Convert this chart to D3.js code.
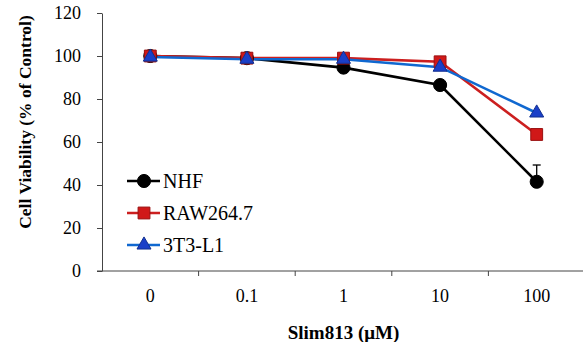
<!DOCTYPE html>
<html>
<head>
<meta charset="utf-8">
<script src="https://cdn.jsdelivr.net/npm/d3@7"></script>
<style>
  body { margin: 0; background: #fff; }
</style>
</head>
<body>
<svg id="chart"></svg>
<script>
// data
var doses = ['0', '0.1', '1', '10', '100'];
var nhf = [100, 99, 94.6, 86.5, 41.5];
var nhfErr = [0, 0, 0, 0, 7.8];
var raw = [100, 99, 99, 97.3, 63.5];
var t3l1 = [99.5, 98.5, 98.5, 94.8, 73.5];
var yTicks = [0, 20, 40, 60, 80, 100, 120];

var serif = '"Liberation Serif", "DejaVu Serif", serif';

// plot box
var width = 583;
var height = 342;
var pLeft = 102, pRight = 585, pTop = 13, pBottom = 271;

var svg = d3.select('#chart')
    .attr('width', width)
    .attr('height', height);

var xScale = d3.scaleBand()
    .domain(doses)
    .range([pLeft, pRight]);

var yScale = d3.scaleLinear()
    .domain([0, 120])
    .range([pBottom, pTop]);

var cx = d => xScale(d) + xScale.bandwidth() / 2;

// y axis
var yAxis = d3.axisLeft(yScale)
    .tickValues(yTicks)
    .tickSize(5)
    .tickSizeOuter(0)
    .tickPadding(16);

var gy = svg.append('g')
    .attr('transform', 'translate(' + pLeft + ',0)')
    .call(yAxis);
gy.selectAll('text')
    .style('font-family', serif)
    .style('font-size', '18px')
    .attr('fill', '#000');
gy.selectAll('line, path').attr('stroke', '#444');

// x axis, ticks sit between categories
var gx = svg.append('g')
    .attr('transform', 'translate(0,' + pBottom + ')');
gx.append('line')
    .attr('x1', pLeft - 5).attr('x2', pRight)
    .attr('stroke', '#444');
gx.selectAll('.tk')
    .data(doses.slice(1))
    .enter()
    .append('line')
        .attr('x1', d => xScale(d))
        .attr('x2', d => xScale(d))
        .attr('y1', 0).attr('y2', 5)
        .attr('stroke', '#444');
gx.selectAll('.lab')
    .data(doses)
    .enter()
    .append('text')
        .attr('x', d => cx(d))
        .attr('y', 31)
        .style('text-anchor', 'middle')
        .style('font-family', serif)
        .style('font-size', '18px')
        .text(d => d);

var line = d3.line()
    .x((d, i) => cx(doses[i]))
    .y(d => yScale(d));

// NHF error bar (upper only)
nhf.forEach(function(v, i) {
    if (nhfErr[i] > 0) {
        var x = cx(doses[i]);
        svg.append('line')
            .attr('x1', x).attr('x2', x)
            .attr('y1', yScale(v)).attr('y2', yScale(v + nhfErr[i]))
            .attr('stroke', '#000').attr('stroke-width', 1.3);
        svg.append('line')
            .attr('x1', x - 4).attr('x2', x + 4)
            .attr('y1', yScale(v + nhfErr[i])).attr('y2', yScale(v + nhfErr[i]))
            .attr('stroke', '#000').attr('stroke-width', 1.3);
    }
});

var series = [
    { name: 'NHF', values: nhf, line: '#000', fill: '#000', stroke: '#000', shape: d3.symbolCircle, size: 135 },
    { name: 'RAW264.7', values: raw, line: '#cc1f1f', fill: '#d01818', stroke: '#9a1010', shape: d3.symbolSquare, size: 140 },
    { name: '3T3-L1', values: t3l1, line: '#1068d0', fill: '#1a3fc8', stroke: '#12308f', shape: d3.symbolTriangle, size: 85 }
];

series.forEach(function(s) {
    svg.append('path')
        .datum(s.values)
        .attr('d', line)
        .attr('fill', 'none')
        .attr('stroke', s.line)
        .attr('stroke-width', 2.6);
});
series.forEach(function(s) {
    svg.selectAll(null)
        .data(s.values)
        .enter()
        .append('path')
            .attr('d', d3.symbol().type(s.shape).size(s.size))
            .attr('transform', (d, i) => 'translate(' + cx(doses[i]) + ',' + yScale(d) + ')')
            .attr('fill', s.fill)
            .attr('stroke', s.stroke)
            .attr('stroke-width', 1);
});

// legend
var legend = svg.append('g');
series.forEach(function(s, i) {
    var y = 181 + i * 32;
    legend.append('line')
        .attr('x1', 127).attr('x2', 160)
        .attr('y1', y).attr('y2', y)
        .attr('stroke', s.line)
        .attr('stroke-width', 2.6);
    legend.append('path')
        .attr('d', d3.symbol().type(s.shape).size(s.size))
        .attr('transform', 'translate(144,' + y + ')')
        .attr('fill', s.fill)
        .attr('stroke', s.stroke);
    legend.append('text')
        .attr('x', 163)
        .attr('y', y)
        .attr('dy', '0.35em')
        .style('font-family', serif)
        .style('font-size', '20px')
        .text(s.name);
});

// axis titles
svg.append('text')
    .attr('x', cx('1'))
    .attr('y', 339)
    .style('text-anchor', 'middle')
    .style('font-family', serif)
    .style('font-size', '19px')
    .style('font-weight', 'bold')
    .text('Slim813 (\u03bcM)');

svg.append('text')
    .attr('transform', 'rotate(-90)')
    .attr('x', -122)
    .attr('y', 31)
    .style('text-anchor', 'middle')
    .style('font-family', serif)
    .style('font-size', '17.5px')
    .style('font-weight', 'bold')
    .text('Cell Viability (% of Control)');
</script>
</body>
</html>
